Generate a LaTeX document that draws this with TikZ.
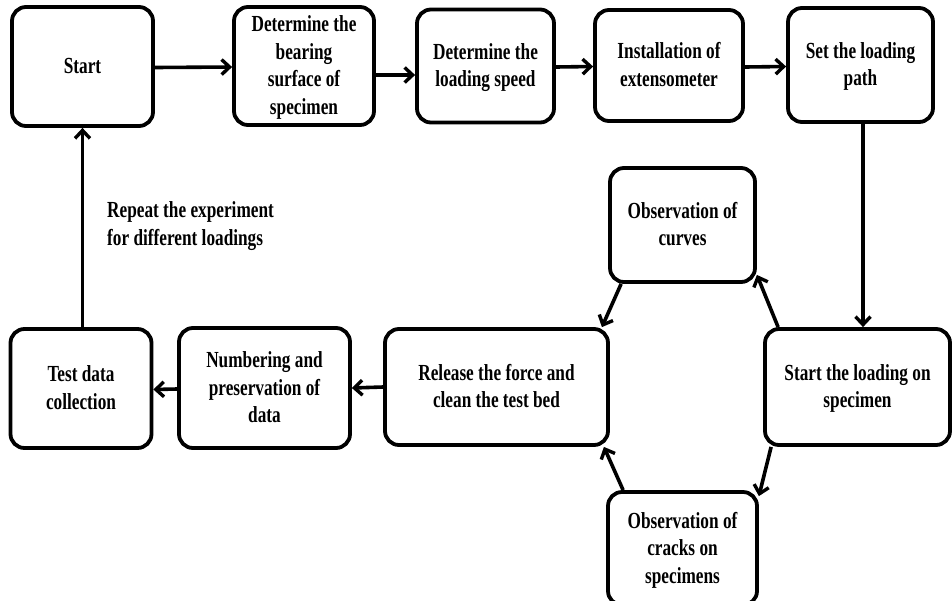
\documentclass[tikz,border=0pt]{standalone}
\usepackage{fontspec}
\newfontfamily\boxfont{Liberation Serif}[FakeStretch=0.75]
\usetikzlibrary{arrows.meta}
\newcommand\stt{\rule[-6.5pt]{0pt}{27pt}}
\tikzset{
  box/.style={draw=black, line width=3.8pt, rounded corners=14pt, fill=white,
    inner sep=0pt, align=center, font=\boxfont\bfseries\fontsize{23}{27.5}\selectfont},
  arr/.style={draw=black, line width=3.6pt, -{Straight Barb[length=8pt,width=15pt,line width=3.4pt]}},
  lbl/.style={inner sep=0pt, align=left, font=\boxfont\bfseries\fontsize{23}{27.5}\selectfont}
}
\begin{document}
\begin{tikzpicture}[x=1pt,y=-1pt]
\clip (0,0) rectangle (952,600);
\fill[white] (0,0) rectangle (952,600);
\node[box, minimum width=141pt, minimum height=119pt] (start) at (82.5,66.5) {\stt Start};
\node[box, minimum width=140pt, minimum height=118pt] (det1) at (304,66) {\stt Determine the\\\stt bearing\\\stt surface of\\\stt specimen};
\node[box, minimum width=137pt, minimum height=113pt] (det2) at (485.5,66) {\stt Determine the\\\stt loading speed};
\node[box, minimum width=148pt, minimum height=111pt] (inst) at (669,65.5) {\stt Installation of\\\stt extensometer};
\node[box, minimum width=145pt, minimum height=114pt] (setp) at (860.5,65) {\stt Set the loading\\\stt path};
\node[box, minimum width=185pt, minimum height=116pt] (startload) at (857.5,387) {\stt Start the loading on\\\stt specimen};
\node[box, minimum width=145pt, minimum height=114pt] (obscurves) at (682.5,225) {\stt Observation of\\\stt curves};
\node[box, minimum width=223pt, minimum height=116pt] (release) at (496.5,387) {\stt Release the force and\\\stt clean the test bed};
\node[box, minimum width=171pt, minimum height=120pt] (number) at (264.5,388) {\stt Numbering and\\\stt preservation of\\\stt data};
\node[box, minimum width=141pt, minimum height=119pt] (testdata) at (81,388.5) {\stt Test data\\\stt collection};
\node[box, minimum width=149pt, minimum height=113pt] (obscracks) at (682.5,548.5) {\stt Observation of\\\stt cracks on\\\stt specimens};
\node[lbl, anchor=west] (rep) at (107,226) {Repeat the experiment\\for different loadings};

\draw[arr] ([yshift=-1pt]start.east) -- ([yshift=-1pt]det1.west);
\draw[arr] ([yshift=-9pt]det1.east) -- ([yshift=-9pt]det2.west);
\draw[arr] ([yshift=-1pt]det2.east) -- ([yshift=-1pt]inst.west);
\draw[arr] ([yshift=-1.5pt]inst.east) -- ([yshift=-1.5pt]setp.west);
\draw[arr] ([xshift=2.5pt]setp.south) -- ([xshift=2.5pt]setp.south |- startload.north);
\draw[arr] ([xshift=15pt]startload.north west) -- ([yshift=9pt]obscurves.south east);
\draw[arr] ([xshift=13pt]obscurves.south west) -- ([xshift=-8pt]release.north east);
\draw[arr] ([xshift=8pt]startload.south west) -- ([yshift=-6pt]obscracks.north east);
\draw[arr] ([xshift=17pt]obscracks.north west) -- ([xshift=-6pt]release.south east);
\draw[arr] (release.west) -- (number.east);
\draw[arr] ([yshift=-1pt]number.west) -- ([yshift=-1pt]testdata.east);
\draw[arr] (testdata.north -| start.south) -- (start.south);
\end{tikzpicture}
\end{document}
